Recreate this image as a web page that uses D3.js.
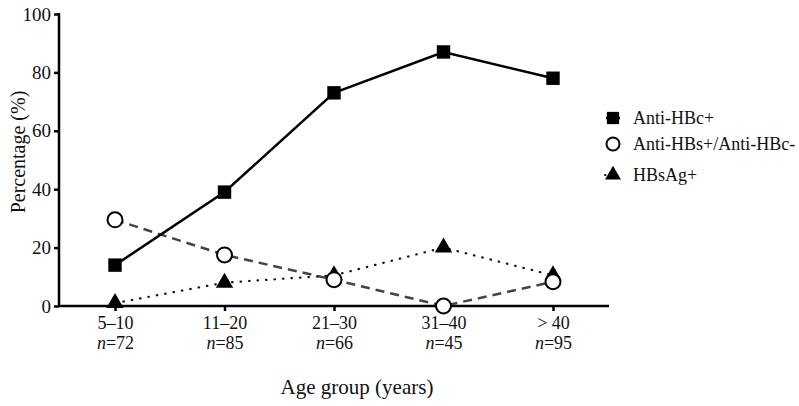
<!DOCTYPE html>
<html><head><meta charset="utf-8">
<script src="https://cdn.jsdelivr.net/npm/d3@7"></script>
<style>body{margin:0;background:#fff}svg{display:block}</style>
</head><body><svg id="c" width="799" height="406" font-family="'Liberation Serif', 'Times New Roman', serif"></svg>
<script>
const categories = ["5–10","11–20","21–30","31–40","> 40"];
const sampleSizes = ["72","85","66","45","95"];
const antiHBc = [14, 39, 73, 87, 78];
const antiHBs = [29.5, 17.5, 9, 0, 8.3];
const hbsag = [1, 8, 10.5, 20, 10.5];
const yTicks = [0,20,40,60,80,100];

const FONT = "'Liberation Serif', 'Times New Roman', serif";
const svg = d3.select("#c");
const x = d3.scalePoint().domain(categories).range([115, 553]);
const y = d3.scaleLinear().domain([0,100]).range([306, 14]);

// axes
const yAxis = d3.axisLeft(y).tickValues(yTicks).tickSize(5).tickPadding(3);
const gy = svg.append("g").attr("transform","translate(59,0)").call(yAxis).attr("font-family",FONT).attr("font-size",19);
gy.select(".domain").attr("stroke","#000").attr("stroke-width",2.5).attr("d","M0,306V13");
gy.selectAll(".tick line").attr("stroke","#000").attr("stroke-width",2.5);
gy.selectAll(".tick text").attr("fill","#111");

const xAxis = d3.axisBottom(x).tickSize(5).tickFormat("");
const gx = svg.append("g").attr("transform","translate(0,306)").call(xAxis).attr("font-family",FONT).attr("font-size",18);
gx.select(".domain").attr("stroke","#000").attr("stroke-width",2.5).attr("d","M58,0H609");
gx.selectAll(".tick line").attr("stroke","#000").attr("stroke-width",2.5);
gx.selectAll(".tick").each(function(d,i){
  const t = d3.select(this).append("text").attr("text-anchor","middle").attr("fill","#111");
  t.append("tspan").attr("x",0).attr("y",23).text(d);
  const t2 = t.append("tspan").attr("x",0).attr("y",43);
  t2.append("tspan").attr("font-style","italic").text("n");
  t2.append("tspan").text("=" + sampleSizes[i]);
});

svg.append("text").attr("transform","translate(25,152) rotate(-90)").attr("text-anchor","middle").attr("font-size",20).attr("fill","#111").text("Percentage (%)");
svg.append("text").attr("x",357).attr("y",394).attr("text-anchor","middle").attr("font-size",21).attr("fill","#111").text("Age group (years)");

const line = d3.line().x((d,i)=>x(categories[i])).y(d=>y(d));
svg.append("path").datum(antiHBs).attr("d",line).attr("fill","none").attr("stroke","#444").attr("stroke-width",2.5).attr("stroke-dasharray","9,6");
svg.append("path").datum(hbsag).attr("d",line).attr("fill","none").attr("stroke","#111").attr("stroke-width",2.2).attr("stroke-dasharray","0.5,8").attr("stroke-linecap","round");
svg.append("path").datum(antiHBc).attr("d",line).attr("fill","none").attr("stroke","#000").attr("stroke-width",2.5);

const sym = (type,size)=>d3.symbol().type(type).size(size)();
svg.selectAll(".sq").data(antiHBc).join("path").attr("d",sym(d3.symbolSquare,180))
  .attr("transform",(d,i)=>`translate(${x(categories[i])},${y(d)})`).attr("fill","#000");
svg.selectAll(".tri").data(hbsag).join("path").attr("d",sym(d3.symbolTriangle,130))
  .attr("transform",(d,i)=>`translate(${x(categories[i])},${y(d)})`).attr("fill","#000");
svg.selectAll(".ci").data(antiHBs).join("circle").attr("r",7.5)
  .attr("cx",(d,i)=>x(categories[i])).attr("cy",d=>y(d)).attr("fill","#fff").attr("stroke","#000").attr("stroke-width",2);

// legend
const leg = [
  {name:"Anti-HBc+", kind:"sq"},
  {name:"Anti-HBs+/Anti-HBc-", kind:"ci"},
  {name:"HBsAg+", kind:"tri"}
];
const ly = [118, 144, 175];
leg.forEach((l,i)=>{
  const g = svg.append("g").attr("transform",`translate(613,${ly[i]})`);
  if(l.kind==="sq"){ g.append("path").attr("d","M-7,0H7").attr("stroke","#000").attr("stroke-width",2.5); g.append("path").attr("d",sym(d3.symbolSquare,150)).attr("fill","#000"); }
  if(l.kind==="ci"){ g.append("circle").attr("r",6.5).attr("fill","#fff").attr("stroke","#000").attr("stroke-width",2); }
  if(l.kind==="tri"){ g.append("path").attr("d","M-8,0H8").attr("stroke","#111").attr("stroke-width",2).attr("stroke-dasharray","0.5,8").attr("stroke-linecap","round"); g.append("path").attr("d",sym(d3.symbolTriangle,110)).attr("fill","#000"); }
  g.append("text").attr("x",20).attr("y",6).attr("font-size",18).attr("fill","#111").text(l.name);
});
</script></body></html>
